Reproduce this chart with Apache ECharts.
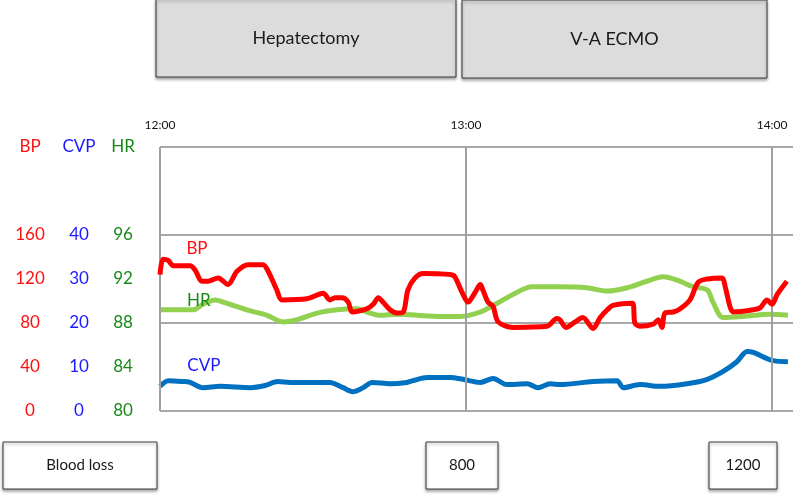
<!DOCTYPE html>
<html>
<head>
<meta charset="utf-8">
<script src="https://cdn.jsdelivr.net/npm/echarts@6/dist/echarts.min.js"></script>
<style>
html,body{margin:0;padding:0;background:#fff;}
#chart{width:797px;height:494px;}
</style>
</head>
<body>
<div id="chart"></div>
<script>
// minutes after 12:00
var hourTicks = [0, 60, 120];
var hourLabels = ['12:00', '13:00', '14:00'];

var bpTime = [0, 0.6, 1.6, 2.6, 5.9, 6.9, 8.2, 9.4, 11.4, 13.3, 15.1, 17.3, 20.2, 21.2, 22.9, 23.9, 28.8, 32.0, 33.3, 34.3, 35.7, 36.9, 37.7, 40.6, 41.8, 42.8, 43.7, 45.1, 46.5, 47.7, 48.6, 50.0, 51.6, 56.9, 57.8, 59.2, 60.4, 61.8, 62.8, 63.3, 64.3, 65.3, 66.3, 69.2, 75.9, 77.8, 78.4, 79.6, 81.4, 82.9, 84.9, 86.3, 87.7, 88.8, 92.6, 93.1, 94.1, 96.7, 97.7, 98.4, 99.0, 100.6, 102.0, 103.9, 105.5, 107.3, 110.2, 110.8, 111.8, 112.4, 116.3, 117.7, 119.0, 120.0, 121.0, 122.9];
var bpValues = [124, 138, 137, 132, 132, 128, 118, 118, 121, 115, 127, 133, 133, 127, 110, 101, 102, 107, 101, 103, 103, 99, 90, 93, 97, 103, 99, 92, 89, 90, 110, 121, 125, 124, 122, 108, 99, 108, 115, 110, 99, 95, 81, 76, 77, 84, 83, 76, 81, 85, 75, 85, 92, 96, 98, 80, 77, 79, 83, 76, 89, 90, 93, 101, 117, 120, 121, 113, 94, 90, 92, 94, 101, 97, 106, 118];

var hrTime = [0, 6.5, 8.4, 10.8, 12.4, 14.3, 17.7, 21.0, 24.1, 26.9, 30.8, 34.7, 38.6, 40.6, 43.1, 46.5, 50.4, 54.9, 58.8, 62.8, 66.1, 69.2, 72.9, 78.4, 83.7, 87.7, 91.6, 95.5, 98.6, 101.4, 104.5, 107.3, 108.4, 110.4, 114.3, 119.6, 123.1];
var hrValues = [89.2, 89.2, 89.7, 90.1, 89.9, 89.6, 89.1, 88.7, 88.1, 88.3, 88.9, 89.2, 89.3, 89.0, 88.7, 88.8, 88.7, 88.6, 88.6, 89.0, 89.8, 90.6, 91.3, 91.3, 91.2, 90.9, 91.2, 91.8, 92.2, 91.9, 91.3, 91.0, 89.9, 88.5, 88.6, 88.8, 88.7];

var cvpTime = [0, 1.6, 4.5, 5.9, 8.4, 11.8, 17.7, 20.6, 23.1, 25.5, 33.3, 35.9, 37.8, 39.8, 41.6, 45.1, 48.4, 49.6, 52.4, 56.9, 59.4, 62.8, 65.3, 68.0, 72.0, 74.1, 76.5, 78.4, 84.9, 89.6, 90.8, 94.1, 98.0, 103.3, 107.3, 110.4, 113.1, 115.1, 116.3, 120.0, 123.1];
var cvpValues = [5.6, 6.9, 6.7, 6.5, 5.3, 5.6, 5.3, 5.8, 6.7, 6.5, 6.5, 5.3, 4.4, 5.3, 6.5, 6.2, 6.5, 6.9, 7.6, 7.6, 7.2, 6.5, 7.4, 6.0, 6.2, 5.3, 6.2, 6.0, 6.7, 6.9, 5.3, 6.0, 5.6, 6.2, 7.2, 9.0, 11.2, 13.5, 13.3, 11.5, 11.2];

var bpTicks = [0, 40, 80, 120, 160];
var cvpTicks = [0, 10, 20, 30, 40];
var hrTicks = [80, 84, 88, 92, 96];

var phases = ['Hepatectomy', 'V-A ECMO'];
var bloodLossTitle = 'Blood loss';
var bloodLoss = ['800', '1200'];

function pairs(t, v) { return t.map(function (x, i) { return [x, v[i]]; }); }

var RED = '#ff0000', BLUE = '#0070c0', GREEN = '#92d050';
var RED_T = '#ff1010', BLUE_T = '#1a1aff', GREEN_T = '#178a17';
var FONT = 'Lato';

function yAxisDef(min, max, interval, ticks, header, color, margin) {
  return {
    type: 'value', position: 'left', min: min, max: max, interval: interval,
    axisLine: { show: false }, axisTick: { show: false }, splitLine: { show: false },
    axisLabel: {
      margin: margin, align: 'center', color: color, fontSize: 17, fontFamily: FONT,
      formatter: function (v) {
        if (ticks.indexOf(v) >= 0) return String(v);
        if (Math.abs(v - max) < 1e-6) return header;
        return '';
      }
    }
  };
}

var chart = echarts.init(document.getElementById('chart'), null, { renderer: 'canvas' });

var boxStyleTop = { fill: '#dcdcdc', stroke: '#3a3a3a', lineWidth: 1, shadowBlur: 3, shadowOffsetY: 2, shadowColor: 'rgba(0,0,0,0.35)' };
var boxStyleBot = { fill: '#ffffff', stroke: '#3a3a3a', lineWidth: 1, shadowBlur: 3, shadowOffsetY: 2, shadowColor: 'rgba(0,0,0,0.35)' };

function box(x, y, w, h, style, text, fs) {
  return {
    type: 'group', children: [
      { type: 'rect', shape: { x: x, y: y, width: w, height: h }, style: style, z: 10 },
      { type: 'text', x: x + w / 2, y: y + h / 2, z: 11,
        style: { text: text, fill: '#1a1a1a', font: fs + 'px ' + FONT, align: 'center', verticalAlign: 'middle' } }
    ]
  };
}

var option = {
  backgroundColor: '#ffffff',
  animation: false,
  grid: { left: 160, right: 4, top: 147, bottom: 83, containLabel: false },
  xAxis: {
    type: 'value', position: 'top', min: 0, max: 124.1, interval: 60,
    axisLine: { show: false },
    axisTick: { show: true, length: 17, customValues: hourTicks, lineStyle: { color: '#9a9a9a', width: 2 } },
    splitLine: { show: false },
    axisLabel: {
      customValues: hourTicks, margin: 16, fontSize: 12, fontFamily: FONT, color: '#111',
      formatter: function (v) { var i = hourTicks.indexOf(v); return i >= 0 ? hourLabels[i] : ''; }
    }
  },
  yAxis: [
    yAxisDef(0, 240, 40, bpTicks, 'BP', RED_T, 130),
    yAxisDef(0, 60, 10, cvpTicks, 'CVP', BLUE_T, 81),
    yAxisDef(80, 104, 4, hrTicks, 'HR', GREEN_T, 37),
    { type: 'value', position: 'left', min: 0, max: 240, interval: 80,
      axisLine: { show: false }, axisTick: { show: false }, axisLabel: { show: false },
      splitLine: { show: true, lineStyle: { color: '#a8a8a8', width: 2 } } }
  ],
  series: [
    { type: 'line', data: [], yAxisIndex: 3, z: 1, silent: true,
      markLine: { silent: true, symbol: 'none', label: { show: false },
        lineStyle: { color: '#a0a0a0', width: 2, type: 'solid' },
        data: hourTicks.map(function (t) { return { xAxis: t }; }) } },
    { name: 'CVP', type: 'line', yAxisIndex: 1, data: pairs(cvpTime, cvpValues), smooth: 0.3, showSymbol: false, z: 3,
      lineStyle: { color: BLUE, width: 5 }, itemStyle: { color: BLUE },
      markPoint: { symbolSize: 0, data: [{ coord: [8.6, 10.3], value: 'CVP' }],
        label: { show: true, position: 'inside', formatter: 'CVP', color: BLUE_T, fontSize: 17, fontFamily: FONT } } },
    { name: 'HR', type: 'line', yAxisIndex: 2, data: pairs(hrTime, hrValues), smooth: 0.3, showSymbol: false, z: 4,
      lineStyle: { color: GREEN, width: 5 }, itemStyle: { color: GREEN },
      markPoint: { symbolSize: 0, data: [{ coord: [7.6, 90.0], value: 'HR' }],
        label: { show: true, position: 'inside', formatter: 'HR', color: GREEN_T, fontSize: 17, fontFamily: FONT } } },
    { name: 'BP', type: 'line', yAxisIndex: 0, data: pairs(bpTime, bpValues), smooth: 0.3, showSymbol: false, z: 5,
      lineStyle: { color: RED, width: 5 }, itemStyle: { color: RED },
      markPoint: { symbolSize: 0, data: [{ coord: [7.25, 148], value: 'BP' }],
        label: { show: true, position: 'inside', formatter: 'BP', color: RED_T, fontSize: 17, fontFamily: FONT } } }
  ],
  graphic: [
    box(156, -1, 300, 78, boxStyleTop, phases[0], 18),
    box(462, 0, 305, 78, boxStyleTop, phases[1], 18),
    box(3, 442, 154, 47, boxStyleBot, bloodLossTitle, 15),
    box(426, 442, 72, 47, boxStyleBot, bloodLoss[0], 15),
    box(709, 442, 68, 47, boxStyleBot, bloodLoss[1], 15)
  ]
};
chart.setOption(option);
</script>
</body>
</html>
